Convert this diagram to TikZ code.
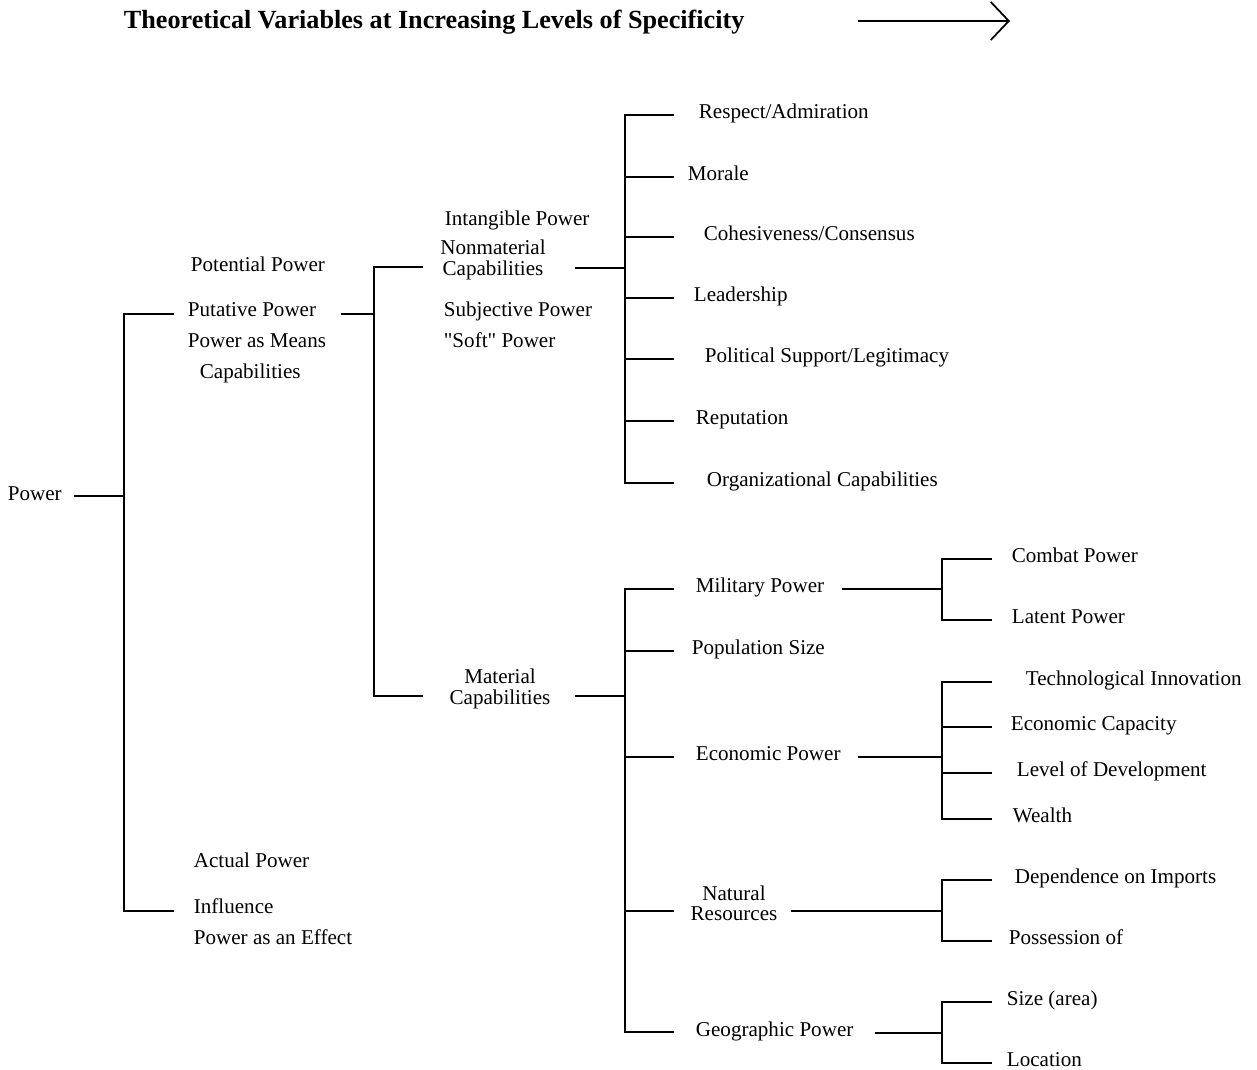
\documentclass[tikz,border=0pt]{standalone}
\usepackage{fontspec}
\setmainfont{Liberation Serif}[Ligatures=TeXOff]
\usetikzlibrary{arrows.meta}

\tikzset{
  lbl/.style={anchor=west, inner sep=0pt, text height=1.5ex, text depth=.25ex, yshift=-2*0.02cm},
  twoline/.style={inner sep=0pt, align=center, font=\fontsize{12}{11.5}\selectfont, yshift=-2*0.02cm},
}

\begin{document}
\begin{tikzpicture}[x=0.02cm, y=-0.02cm, line width=1pt, font=\fontsize{12}{14}\selectfont]
        \useasboundingbox (0,0) rectangle (1257,1070);
        % heading
        \node[lbl, font=\fontsize{14.9}{16}\selectfont\bfseries] (title) at (123,21) {Theoretical Variables at Increasing Levels of Specificity};
        \coordinate (ar-s) at (858,21);
        \coordinate (ar-e) at (1010,21);
        \draw[-{Straight Barb[length=0.36cm, width=0.76cm]}] (ar-s) -- (ar-e);

        % root
        \node[lbl] (power) at (7,493) {Power};
        \coordinate (power-out) at (74,496);
        \coordinate (j0) at (124,496);
        \coordinate (put-in) at (174,314);
        \coordinate (infl-in) at (174,911);
        \draw (power-out) -- (j0);
        \draw (put-in) -| (j0) |- (infl-in);

        \node[lbl] (pot) at (190,264) {Potential Power};
        \node[lbl] (put) at (187,309) {Putative Power};
        \node[lbl] (means) at (187,340) {Power as Means};
        \node[lbl] (capab) at (199,371) {Capabilities};
        \node[lbl] (actual) at (193,860) {Actual Power};
        \node[lbl] (infl) at (193,906) {Influence};
        \node[lbl] (effect) at (193,937) {Power as an Effect};

        % potential power
        \coordinate (put-out) at (341,314);
        \coordinate (j1) at (374,314);
        \coordinate (nm-in) at (423,267);
        \coordinate (mat-in) at (423,696);
        \draw (put-out) -- (j1);
        \draw (nm-in) -| (j1) |- (mat-in);

        \node[lbl] (intang) at (444,218) {Intangible Power};
        \node[twoline] (nm) at (493,258) {Nonmaterial\\Capabilities};
        \node[lbl] (subj) at (443,309) {Subjective Power};
        \node[lbl] (soft) at (443,340) {"Soft" Power};
        \node[twoline] (mat) at (500,687) {Material\\Capabilities};

        % nonmaterial capabilities
        \coordinate (nm-out) at (575,268);
        \coordinate (j2) at (625,268);
        \draw (nm-out) -- (j2);
        \foreach \name/\y/\tx/\txt in {resp/115/698/{Respect/Admiration}, morale/177/687/Morale,
            cohes/237/703/{Cohesiveness/Consensus}, lead/298/693/Leadership,
            polit/359/704/{Political Support/Legitimacy}, reput/421/695/Reputation,
            org/483/706/Organizational Capabilities}{
          \coordinate (\name-in) at (674,\y);
          \node[lbl] (\name) at (\tx,\y-4) {\txt};
          \draw (j2 |- \name-in) -- (\name-in);
        }
        \draw (resp-in) -| (j2) |- (org-in);

        % material capabilities
        \coordinate (mat-out) at (575,696);
        \coordinate (j3) at (625,696);
        \draw (mat-out) -- (j3);
        \foreach \name/\y in {mil/589, pop/651, eco/757, nat/911, geo/1032}{
          \coordinate (\name-in) at (674,\y);
          \draw (j3 |- \name-in) -- (\name-in);
        }
        \draw (mil-in) -| (j3) |- (geo-in);
        \node[lbl] (mil) at (695,585) {Military Power};
        \node[lbl] (pop) at (691,647) {Population Size};
        \node[lbl] (eco) at (695,753) {Economic Power};
        \node[twoline] (nat) at (734,901) {Natural\\Resources};
        \node[lbl] (geo) at (695,1029) {Geographic Power};

        % military power
        \coordinate (mil-out) at (842,589);
        \coordinate (j4) at (942,589);
        \coordinate (combat-in) at (992,559);
        \coordinate (latent-in) at (992,620);
        \draw (mil-out) -- (j4);
        \draw (combat-in) -| (j4) |- (latent-in);
        \node[lbl] (combat) at (1011,555) {Combat Power};
        \node[lbl] (latent) at (1011,616) {Latent Power};

        % economic power
        \coordinate (eco-out) at (858,757);
        \coordinate (j5) at (942,757);
        \draw (eco-out) -- (j5);
        \foreach \name/\y/\tx/\txt in {tech/682/1025/Technological Innovation,
            ecap/727/1010/Economic Capacity, level/773/1016/Level of Development,
            wealth/819/1012/Wealth}{
          \coordinate (\name-in) at (992,\y);
          \node[lbl] (\name) at (\tx,\y-4) {\txt};
          \draw (j5 |- \name-in) -- (\name-in);
        }
        \draw (tech-in) -| (j5) |- (wealth-in);

        % natural resources
        \coordinate (nat-out) at (791,911);
        \coordinate (j6) at (942,911);
        \coordinate (dep-in) at (992,880);
        \coordinate (poss-in) at (992,941);
        \draw (nat-out) -- (j6);
        \draw (dep-in) -| (j6) |- (poss-in);
        \node[lbl] (dep) at (1014,876) {Dependence on Imports};
        \node[lbl] (poss) at (1008,937) {Possession of};

        % geographic power
        \coordinate (geo-out) at (875,1033);
        \coordinate (j7) at (942,1033);
        \coordinate (size-in) at (992,1002);
        \coordinate (loc-in) at (992,1063);
        \draw (geo-out) -- (j7);
        \draw (size-in) -| (j7) |- (loc-in);
        \node[lbl] (size) at (1006,998) {Size (area)};
        \node[lbl] (loc) at (1006,1059) {Location};
      \end{tikzpicture}
\end{document}
